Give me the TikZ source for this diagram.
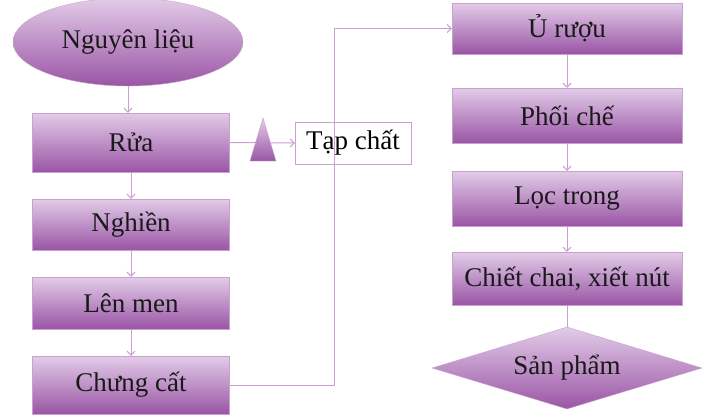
\documentclass[tikz,border=0pt]{standalone}
\usepackage{fontspec}
\setmainfont{Liberation Serif}
\usetikzlibrary{shapes.geometric,arrows.meta}
\definecolor{lilac}{HTML}{C9A0CF}
\definecolor{plumtop}{HTML}{E2CCE8}
\definecolor{plumbot}{HTML}{9A55A5}
\begin{document}
\begin{tikzpicture}[x=1pt,y=-1pt,font=\fontsize{27}{30}\selectfont,
  box/.style={draw=lilac, top color=plumtop, bottom color=plumbot, inner sep=0pt, text=black!90},
  lbox/.style={box, minimum width=197pt},
  rbox/.style={box, minimum width=230pt},
  link/.style={draw=lilac, line width=1pt, -{Straight Barb[length=4pt,width=8pt]}}]
\useasboundingbox (0,0) rectangle (720,418);
% left column
\node[box, ellipse, minimum width=230pt, minimum height=88pt] (nl) at (128,42) {Nguyên liệu};
\node[lbox, minimum height=59pt] (rua) at (131,142.5) {Rửa};
\node[lbox, minimum height=51pt] (ng) at (131,224.5) {Nghiền};
\node[lbox, minimum height=52pt] (lm) at (131,303) {Lên men};
\node[lbox, minimum height=58pt] (cc) at (131,385) {Chưng cất};
\node[draw=lilac, fill=white, inner sep=0pt, minimum width=116pt, minimum height=42pt] (tc) at (353,143) {Tạp chất};
% right column
\node[rbox, minimum height=51pt] (ur) at (567,28.5) {Ủ rượu};
\node[rbox, minimum height=55pt] (pc) at (567,115.5) {Phối chế};
\node[rbox, minimum height=55pt] (lt) at (567,198.5) {Lọc trong};
\node[rbox, minimum height=53pt] (ccx) at (567,278.5) {Chiết chai, xiết nút};
\node[box, diamond, aspect=3.3, minimum width=270pt, minimum height=82pt] (sp) at (567,368) {Sản phẩm};
\coordinate (turn) at (334,385);
% connectors
\draw[link] (nl.south) -- (nl.south |- rua.north);
\draw[link] (rua) -- (ng);
\draw[link] (ng) -- (lm);
\draw[link] (lm) -- (cc);
\draw[link] (rua.east) -- (tc.west);
\shade[top color=plumtop, bottom color=plumbot, draw=lilac] (250,161) -- (263,118) -- (276,161) -- cycle;
\draw[link] (cc.east) -- (turn) |- (ur.west);
\draw[link] (ur) -- (pc);
\draw[link] (pc) -- (lt);
\draw[link] (lt) -- (ccx);
\draw[draw=lilac, line width=1pt] (ccx) -- (sp);
\end{tikzpicture}
\end{document}
